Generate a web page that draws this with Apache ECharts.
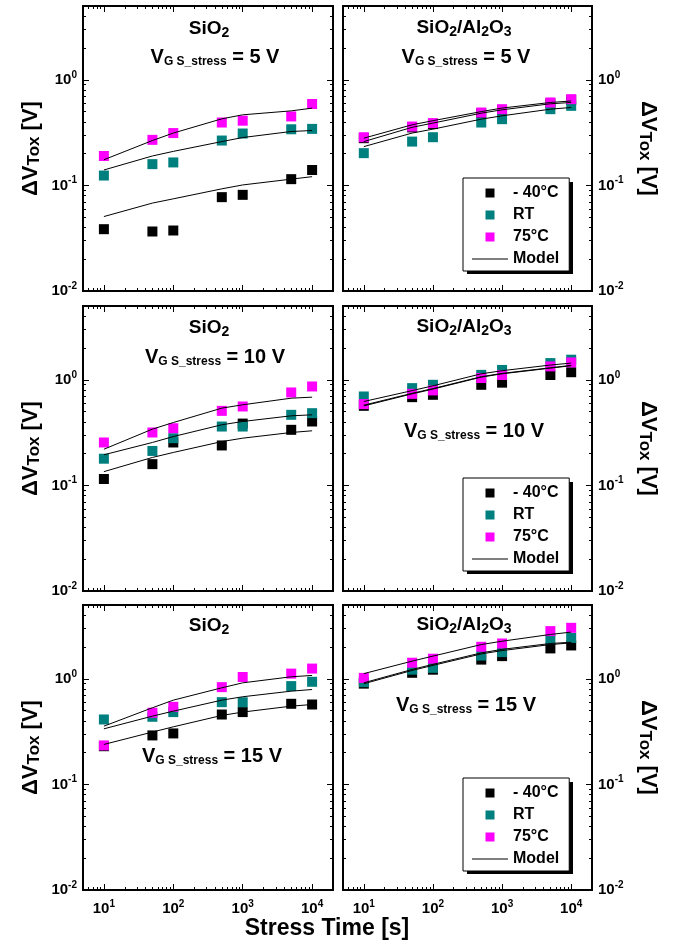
<!DOCTYPE html>
<html>
<head>
<meta charset="utf-8">
<script src="https://cdn.jsdelivr.net/npm/echarts@6/dist/echarts.min.js"></script>
<style>
html,body{margin:0;padding:0;background:#fff;}
#chart{width:689px;height:945px;}
</style>
</head>
<body>
<div id="chart"></div>
<script>
// ---------------- data ----------------
const stressTime = [10, 50, 100, 500, 1000, 5000, 10000];
const xMajorTicks = [10, 100, 1000, 10000];
const yMajorTicks = [0.01, 0.1, 1];
const legendNames = ['- 40°C', 'RT', '75°C', 'Model'];

// SiO2, VGS_stress = 5 V
const sio2_5V_m40 = [0.0385, 0.0366, 0.0374, 0.0774, 0.0814, 0.1146, 0.140];
const sio2_5V_RT  = [0.124, 0.159, 0.165, 0.266, 0.31, 0.34, 0.343];
const sio2_5V_75  = [0.19, 0.27, 0.313, 0.394, 0.41, 0.45, 0.59];
const sio2_5V_modelA = [0.0507, 0.068, 0.0746, 0.0928, 0.101, 0.1146, 0.121];
const sio2_5V_modelB = [0.140, 0.19, 0.21, 0.26, 0.284, 0.324, 0.331];
const sio2_5V_modelC = [0.175, 0.266, 0.313, 0.427, 0.466, 0.508, 0.539];

// SiO2/Al2O3, VGS_stress = 5 V
const al_5V_m40 = [0.28, 0.354, 0.381, 0.48, 0.516, 0.598, 0.643];
const al_5V_RT  = [0.202, 0.26, 0.286, 0.394, 0.424, 0.527, 0.567];
const al_5V_75  = [0.286, 0.361, 0.389, 0.49, 0.527, 0.61, 0.656];
const al_5V_modelA = [0.233, 0.313, 0.341, 0.424, 0.456, 0.527, 0.547];
const al_5V_modelB = [0.26, 0.355, 0.389, 0.483, 0.52, 0.593, 0.61];
const al_5V_modelC = [0.28, 0.375, 0.41, 0.50, 0.54, 0.61, 0.63];

// SiO2, VGS_stress = 10 V
const sio2_10V_m40 = [0.115, 0.159, 0.255, 0.239, 0.385, 0.336, 0.403];
const sio2_10V_RT  = [0.179, 0.212, 0.28, 0.361, 0.361, 0.466, 0.483];
const sio2_10V_75  = [0.255, 0.317, 0.348, 0.508, 0.559, 0.759, 0.865];
const sio2_10V_modelA = [0.135, 0.184, 0.205, 0.26, 0.28, 0.317, 0.329];
const sio2_10V_modelB = [0.195, 0.255, 0.29, 0.375, 0.403, 0.456, 0.466];
const sio2_10V_modelC = [0.22, 0.341, 0.394, 0.539, 0.58, 0.67, 0.685];

// SiO2/Al2O3, VGS_stress = 10 V
const al_10V_m40 = [0.567, 0.685, 0.721, 0.897, 0.94, 1.11, 1.18];
const al_10V_RT  = [0.695, 0.834, 0.897, 1.114, 1.24, 1.44, 1.55];
const al_10V_75  = [0.589, 0.736, 0.793, 1.04, 1.11, 1.34, 1.46];
const al_10V_modelA = [0.566, 0.736, 0.816, 1.06, 1.14, 1.29, 1.36];
const al_10V_modelB = [0.575, 0.745, 0.826, 1.07, 1.15, 1.30, 1.37];
const al_10V_modelC = [0.623, 0.79, 0.877, 1.14, 1.22, 1.38, 1.44];

// SiO2, VGS_stress = 15 V
const sio2_15V_m40 = [0.23, 0.291, 0.304, 0.459, 0.484, 0.58, 0.571];
const sio2_15V_RT  = [0.412, 0.437, 0.484, 0.601, 0.60, 0.853, 0.937];
const sio2_15V_75  = [0.234, 0.477, 0.543, 0.834, 1.04, 1.12, 1.25];
const sio2_15V_modelA = [0.239, 0.313, 0.351, 0.45, 0.484, 0.551, 0.571];
const sio2_15V_modelB = [0.336, 0.443, 0.494, 0.628, 0.676, 0.764, 0.792];
const sio2_15V_modelC = [0.356, 0.532, 0.628, 0.822, 0.916, 1.045, 1.076];

// SiO2/Al2O3, VGS_stress = 15 V
const al_15V_m40 = [0.9, 1.14, 1.22, 1.52, 1.64, 1.94, 2.07];
const al_15V_RT  = [0.93, 1.22, 1.27, 1.66, 1.79, 2.36, 2.44];
const al_15V_75  = [1.02, 1.42, 1.55, 2.01, 2.16, 2.83, 3.04];
const al_15V_modelA = [0.898, 1.2, 1.34, 1.72, 1.85, 2.11, 2.19];
const al_15V_modelB = [0.917, 1.226, 1.37, 1.76, 1.9, 2.16, 2.22];
const al_15V_modelC = [1.12, 1.47, 1.64, 2.11, 2.27, 2.63, 2.77];

const panelTitles = ['SiO2', 'SiO2/Al2O3', 'SiO2', 'SiO2/Al2O3', 'SiO2', 'SiO2/Al2O3'];
const panelVoltages = ['5 V', '5 V', '10 V', '10 V', '15 V', '15 V'];

const panelData = [
  {m40: sio2_5V_m40, rt: sio2_5V_RT, t75: sio2_5V_75, models: [sio2_5V_modelA, sio2_5V_modelB, sio2_5V_modelC]},
  {m40: al_5V_m40, rt: al_5V_RT, t75: al_5V_75, models: [al_5V_modelA, al_5V_modelB, al_5V_modelC]},
  {m40: sio2_10V_m40, rt: sio2_10V_RT, t75: sio2_10V_75, models: [sio2_10V_modelA, sio2_10V_modelB, sio2_10V_modelC]},
  {m40: al_10V_m40, rt: al_10V_RT, t75: al_10V_75, models: [al_10V_modelA, al_10V_modelB, al_10V_modelC]},
  {m40: sio2_15V_m40, rt: sio2_15V_RT, t75: sio2_15V_75, models: [sio2_15V_modelA, sio2_15V_modelB, sio2_15V_modelC]},
  {m40: al_15V_m40, rt: al_15V_RT, t75: al_15V_75, models: [al_15V_modelA, al_15V_modelB, al_15V_modelC]}
];

// ---------------- layout / style ----------------
const FONT = "'Liberation Sans', Arial, Helvetica, sans-serif";
const colors = {m40: '#000000', rt: '#007f7f', t75: '#ff00ff'};
const colLeft = [83, 343], colWidth = [250, 249];
const rowTop = [6, 306, 605], rowHeight = 285;

function minorList(lo, hi) {
  const out = [];
  for (let e = -3; e <= 5; e++) {
    for (let k = 2; k <= 9; k++) {
      const v = +(k * Math.pow(10, e)).toPrecision(6);
      if (v > lo && v < hi) out.push(v);
    }
  }
  return out;
}
const xMinorTicks = minorList(5, 20000);
const yMinorTicks = minorList(0.01, 5);

function expLabel(v) {
  const e = Math.round(Math.log10(v));
  return '{b|10}{s|' + (e < 0 ? '-' + (-e) : e) + '}';
}
const labelRich = {
  b: {fontSize: 15, fontWeight: 'bold', fontFamily: FONT, color: '#000', lineHeight: 20},
  s: {fontSize: 10, fontWeight: 'bold', fontFamily: FONT, color: '#000', lineHeight: 10, verticalAlign: 'top'}
};
const yNameText = '{a|ΔV}{b|Tox}{a| [V]}';
const yNameRich = {
  a: {fontSize: 22, fontWeight: 'bold', fontFamily: FONT, color: '#000', lineHeight: 24},
  b: {fontSize: 17, fontWeight: 'bold', fontFamily: FONT, color: '#000', lineHeight: 14, verticalAlign: 'bottom'}
};

const grids = [], xAxes = [], yAxes = [], series = [], graphics = [], legends = [];

panelData.forEach((p, i) => {
  const col = i % 2, row = Math.floor(i / 2);
  grids.push({
    left: colLeft[col], top: rowTop[row], width: colWidth[col], height: rowHeight,
    show: true, borderColor: '#000', borderWidth: 2, backgroundColor: 'transparent'
  });
  const xBase = xAxes.length, yBase = yAxes.length;
  const showXLabel = row === 2;
  [['bottom', xMajorTicks, 6], ['top', xMajorTicks, 6], ['bottom', xMinorTicks, 3], ['top', xMinorTicks, 3]].forEach((d, k) => {
    xAxes.push({
      type: 'log', logBase: 10, gridIndex: i, min: 5, max: 20000, position: d[0],
      axisLine: {show: false}, splitLine: {show: false}, minorTick: {show: false},
      axisTick: {show: true, inside: true, length: d[2], customValues: d[1], lineStyle: {color: '#000', width: 1}},
      axisLabel: {show: showXLabel && k === 0, customValues: xMajorTicks, margin: 9, formatter: expLabel, rich: labelRich}
    });
  });
  [['left', yMajorTicks, 6], ['right', yMajorTicks, 6], ['left', yMinorTicks, 3], ['right', yMinorTicks, 3]].forEach((d, k) => {
    const isLabelAxis = (col === 0 && k === 0) || (col === 1 && k === 1);
    const ax = {
      type: 'log', logBase: 10, gridIndex: i, min: 0.01, max: 5, position: d[0],
      axisLine: {show: false}, splitLine: {show: false}, minorTick: {show: false},
      axisTick: {show: true, inside: true, length: d[2], customValues: d[1], lineStyle: {color: '#000', width: 1}},
      axisLabel: {show: isLabelAxis, customValues: yMajorTicks, margin: 6, formatter: expLabel, rich: labelRich}
    };
    if (isLabelAxis) {
      ax.name = yNameText;
      ax.nameLocation = 'middle';
      ax.nameRotate = col === 0 ? 90 : -90;
      ax.nameGap = col === 0 ? 40 : 44;
      ax.nameTextStyle = {rich: yNameRich};
    }
    yAxes.push(ax);
  });
  const xi = xBase, yi = yBase;
  [['- 40°C', p.m40, colors.m40], ['RT', p.rt, colors.rt], ['75°C', p.t75, colors.t75]].forEach(s => {
    series.push({
      type: 'scatter', name: s[0], xAxisIndex: xi, yAxisIndex: yi,
      symbol: 'rect', symbolSize: 10, itemStyle: {color: s[2], opacity: 1}, z: 2,
      data: stressTime.map((t, j) => [t, s[1][j]])
    });
  });
  p.models.forEach(m => {
    series.push({
      type: 'line', name: 'Model', xAxisIndex: xi, yAxisIndex: yi,
      symbol: 'none', lineStyle: {color: '#000', width: 1}, itemStyle: {color: '#000'}, z: 3,
      data: stressTime.map((t, j) => [t, m[j]])
    });
  });
});

// panel annotation texts
const titleRich = {
  a: {fontSize: 19, fontWeight: 'bold', fontFamily: FONT, color: '#000', lineHeight: 22},
  b: {fontSize: 14, fontWeight: 'bold', fontFamily: FONT, color: '#000', lineHeight: 12, verticalAlign: 'bottom'}
};
const vRich = {
  a: {fontSize: 20, fontWeight: 'bold', fontFamily: FONT, color: '#000', lineHeight: 22},
  b: {fontSize: 12, fontWeight: 'bold', fontFamily: FONT, color: '#000', lineHeight: 10, verticalAlign: 'bottom'}
};
function titleText(t) {
  return t === 'SiO2' ? '{a|SiO}{b|2}' : '{a|SiO}{b|2}{a|/Al}{b|2}{a|O}{b|3}';
}
const titlePos = [[209, 29], [464, 28], [209, 328], [464, 327], [209, 626], [464, 625]];
const vPos = [[215, 57], [466, 57], [215, 357], [474, 431], [212, 756], [466, 705]];
panelTitles.forEach((t, i) => {
  graphics.push({type: 'text', x: titlePos[i][0], y: titlePos[i][1], z: 10,
    style: {text: titleText(t), rich: titleRich, align: 'center', verticalAlign: 'middle'}});
  graphics.push({type: 'text', x: vPos[i][0], y: vPos[i][1], z: 10,
    style: {text: '{a|V}{b|G S_stress}{a| = ' + panelVoltages[i] + '}', rich: vRich, align: 'center', verticalAlign: 'middle'}});
});
graphics.push({type: 'text', x: 327, y: 929, z: 10,
  style: {text: 'Stress Time [s]', font: 'bold 23px ' + FONT, fill: '#000', align: 'center', verticalAlign: 'middle'}});

const sq = 'path://M0,0H10V10H0Z';
const lineIcon = 'path://M0,0H36V1H0Z';
const legendTops = [178, 478, 778];
legendTops.forEach(top => {
  // solid drop shadow behind the legend box
  graphics.push({type: 'rect', z: 1, shape: {x: 467, y: top + 4, width: 106, height: 92}, style: {fill: '#000'}});
  legends.push({
    orient: 'vertical', left: 463, top: top,
    padding: [7, 10, 4, 9], itemWidth: 36, itemHeight: 9, itemGap: 6,
    backgroundColor: '#fff', borderColor: '#000', borderWidth: 1,
    symbolKeepAspect: true, selectedMode: false,
    textStyle: {fontSize: 16, fontWeight: 'bold', color: '#000', fontFamily: FONT, lineHeight: 16},
    data: [{name: legendNames[0], icon: sq}, {name: legendNames[1], icon: sq}, {name: legendNames[2], icon: sq}, {name: legendNames[3], icon: lineIcon}]
  });
});

const chart = echarts.init(document.getElementById('chart'), null, {renderer: 'canvas'});
chart.setOption({
  backgroundColor: '#fff',
  animation: false,
  textStyle: {fontFamily: FONT},
  grid: grids,
  xAxis: xAxes,
  yAxis: yAxes,
  legend: legends,
  graphic: graphics,
  series: series
});
</script>
</body>
</html>
